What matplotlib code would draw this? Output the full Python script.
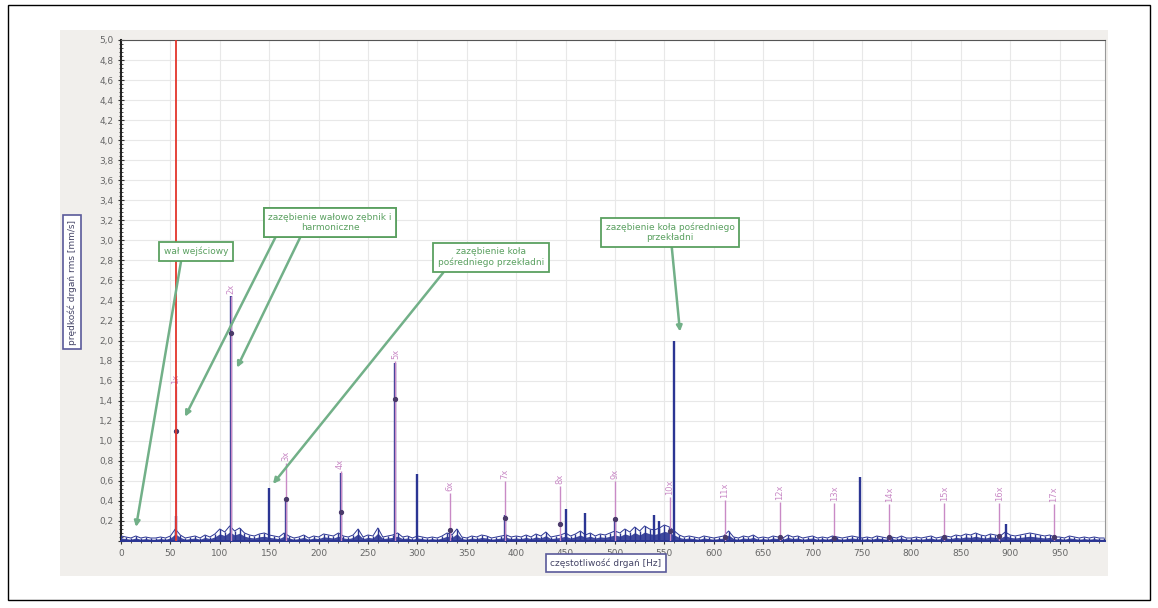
import numpy as np
import matplotlib
matplotlib.use("Agg")
import matplotlib.pyplot as plt
from matplotlib.patches import Rectangle
from matplotlib.ticker import MultipleLocator, FuncFormatter

# noise floor of the spectrum, one value every 5 Hz (0..995 Hz)
noise_step = 5.0
noise = [
    0.05, 0.04, 0.03, 0.05, 0.03, 0.04, 0.03, 0.03, 0.04, 0.03,
    0.05, 0.12, 0.06, 0.03, 0.04, 0.05, 0.03, 0.06, 0.04, 0.07,
    0.12, 0.09, 0.15, 0.10, 0.13, 0.08, 0.06, 0.05, 0.07, 0.08,
    0.06, 0.05, 0.04, 0.08, 0.05, 0.03, 0.04, 0.06, 0.03, 0.05,
    0.04, 0.07, 0.06, 0.05, 0.08, 0.05, 0.04, 0.06, 0.12, 0.04,
    0.06, 0.05, 0.13, 0.04, 0.05, 0.06, 0.08, 0.04, 0.05, 0.03,
    0.05, 0.04, 0.03, 0.04, 0.03, 0.05, 0.08, 0.06, 0.12, 0.04,
    0.03, 0.05, 0.04, 0.06, 0.05, 0.03, 0.04, 0.05, 0.06, 0.04,
    0.05, 0.04, 0.06, 0.04, 0.07, 0.05, 0.09, 0.04, 0.05, 0.06,
    0.08, 0.05, 0.07, 0.10, 0.06, 0.08, 0.05, 0.07, 0.06, 0.08,
    0.10, 0.08, 0.12, 0.09, 0.14, 0.10, 0.15, 0.12, 0.11, 0.13,
    0.16, 0.14, 0.10, 0.06, 0.04, 0.05, 0.04, 0.03, 0.05, 0.04,
    0.03, 0.04, 0.05, 0.10, 0.04, 0.03, 0.05, 0.04, 0.06, 0.03,
    0.04, 0.03, 0.05, 0.04, 0.03, 0.06, 0.04, 0.05, 0.03, 0.04,
    0.05, 0.03, 0.04, 0.03, 0.05, 0.04, 0.03, 0.04, 0.05, 0.04,
    0.03, 0.04, 0.03, 0.05, 0.04, 0.03, 0.04, 0.03, 0.05, 0.03,
    0.03, 0.04, 0.03, 0.04, 0.05, 0.03, 0.04, 0.05, 0.04, 0.06,
    0.05, 0.07, 0.06, 0.08, 0.06, 0.05, 0.07, 0.06, 0.05, 0.09,
    0.06, 0.05, 0.06, 0.07, 0.08, 0.07, 0.06, 0.05, 0.06, 0.04,
    0.04, 0.03, 0.05, 0.04, 0.03, 0.04, 0.03, 0.04, 0.03, 0.03,
]

# discrete spectral lines
peak_freq = [55.6, 111.1, 150.0, 166.7, 222.2, 277.8, 300.0, 333.3, 388.9,
             450.0, 470.0, 500.0, 540.0, 545.0, 560.0, 748.0, 896.0]
peak_amp = [0.25, 2.45, 0.53, 0.42, 0.68, 1.78, 0.67, 0.12, 0.26,
            0.32, 0.28, 0.22, 0.26, 0.20, 2.00, 0.64, 0.17]

# harmonic cursors of the input shaft
harm_labels = ["1x", "2x", "3x", "4x", "5x", "6x", "7x", "8x", "9x", "10x",
               "11x", "12x", "13x", "14x", "15x", "16x", "17x"]
harm_freq = [55.6, 111.1, 166.7, 222.2, 277.8, 333.3, 388.9, 444.4, 500.0,
             555.6, 611.1, 666.7, 722.2, 777.8, 833.3, 888.9, 944.4]
harm_top = [1.55, 2.45, 0.78, 0.70, 1.80, 0.48, 0.60, 0.55, 0.60, 0.44,
            0.41, 0.39, 0.38, 0.37, 0.38, 0.38, 0.37]
harm_dot = [1.10, 2.08, 0.42, 0.29, 1.42, 0.11, 0.23, 0.17, 0.22, 0.10,
            0.04, 0.04, 0.03, 0.04, 0.04, 0.05, 0.04]

cursor_freq = 55.6

# text boxes: label, text position, arrow targets, arrow start on box
notes = [
    ("wał wejściowy", (76, 2.89), [((15.2, 0.14), (0.28, 0.0))]),
    ("zazębienie wałowo zębnik i\nharmoniczne", (211.5, 3.18),
     [((64.8, 1.24), (0.08, 0.0)), ((117.4, 1.73), (0.28, 0.0))]),
    ("zazębienie koła\npośredniego przekładni", (374.5, 2.83),
     [((153.8, 0.57), (0.09, 0.0))]),
    ("zazębienie koła pośredniego\nprzekładni", (555.7, 3.08),
     [((565.8, 2.09), (0.51, 0.0))]),
]

blue = "#2b3593"
pink = "#c98ac6"
green = "#5aa060"
arrow_green = "#72b088"

fig = plt.figure(figsize=(11.58, 6.08), dpi=100)
fig.patch.set_facecolor("white")

# outer frame and grey panel behind the chart
fig.add_artist(Rectangle((8 / 1158, 1 - 600 / 608), 1142 / 1158, 595 / 608,
                         transform=fig.transFigure, fill=False,
                         edgecolor="black", lw=1.0))
fig.add_artist(Rectangle((60 / 1158, 1 - 576 / 608), 1048 / 1158, 546 / 608,
                         transform=fig.transFigure, facecolor="#f1efec",
                         edgecolor="none", zorder=0))

ax = fig.add_axes([121 / 1158, 1 - 541 / 608, 984 / 1158, 501 / 608])
ax.set_facecolor("white")
ax.set_zorder(1)

f = np.arange(len(noise)) * noise_step
ax.fill_between(f, 0, np.array(noise) * 0.6, color=blue, lw=0, alpha=0.9, zorder=3)
ax.vlines(f, 0, noise, color=blue, lw=1.0, zorder=3)
ax.plot(f, noise, color=blue, lw=0.7, zorder=3)
ax.vlines(peak_freq, 0, peak_amp, color=blue, lw=1.7, zorder=4)

# harmonic markers
ax.vlines(harm_freq, 0, harm_top, color=pink, lw=1.0, zorder=5)
ax.plot(harm_freq, harm_dot, "o", color="#4a3a6a", ms=2.8, zorder=6)
for lab, hx, ht in zip(harm_labels, harm_freq, harm_top):
    ax.text(hx, ht + 0.02, lab, rotation=90, ha="center", va="bottom",
            fontsize=6, color=pink, zorder=6)

ax.axvline(cursor_freq, color="#e3352b", lw=1.3, zorder=7)

for text, pos, arrows in notes:
    for target, rel in arrows:
        ax.annotate(text, xy=target, xytext=pos, ha="center", va="center",
                    fontsize=6.5, color=green, zorder=8,
                    bbox=dict(boxstyle="square,pad=0.5", fc="white",
                              ec=green, lw=1.3),
                    arrowprops=dict(arrowstyle="-|>,head_length=0.5,head_width=0.25",
                                    color=arrow_green, lw=1.8,
                                    relpos=rel, shrinkA=0, shrinkB=0))

ax.set_xlim(0, 996)
ax.set_ylim(0, 5.0)
ax.xaxis.set_major_locator(MultipleLocator(50))
ax.xaxis.set_minor_locator(MultipleLocator(10))
ax.yaxis.set_major_locator(MultipleLocator(0.2))
ax.yaxis.set_minor_locator(MultipleLocator(0.04))
ax.xaxis.set_major_formatter(FuncFormatter(lambda v, p: f"{v:.0f}" if v < 960 else ""))
ax.yaxis.set_major_formatter(
    FuncFormatter(lambda v, p: "" if v < 0.1 else f"{v:.1f}".replace(".", ",")))
ax.tick_params(axis="both", which="major", labelsize=6.5, labelcolor="#666666",
               color="#333333", length=4, width=0.8, direction="inout")
ax.tick_params(axis="both", which="minor", color="#333333", length=2.5,
               width=0.6, direction="inout")
ax.grid(True, which="major", color="#e8e8e8", lw=0.8, zorder=0)
ax.set_axisbelow(True)

ax.spines["left"].set_color("#222222")
ax.spines["left"].set_linewidth(1.5)
ax.spines["bottom"].set_color(blue)
ax.spines["bottom"].set_linewidth(1.4)
ax.spines["top"].set_color("#555555")
ax.spines["right"].set_color("#999999")

# axis titles in framed boxes
fig.text(606 / 1158, 1 - 563 / 608, "częstotliwość drgań [Hz]", ha="center",
         va="center", fontsize=6.5, color="#444466", zorder=10,
         bbox=dict(boxstyle="square,pad=0.45", fc="white", ec="#5a5a9a", lw=1.2))
fig.text(72 / 1158, 1 - 282 / 608, "prędkość drgań rms [mm/s]", ha="center",
         va="center", rotation=90, fontsize=6.5, color="#444466", zorder=10,
         bbox=dict(boxstyle="square,pad=0.45", fc="white", ec="#5a5a9a", lw=1.2))

fig.savefig("out.png", dpi=100)
